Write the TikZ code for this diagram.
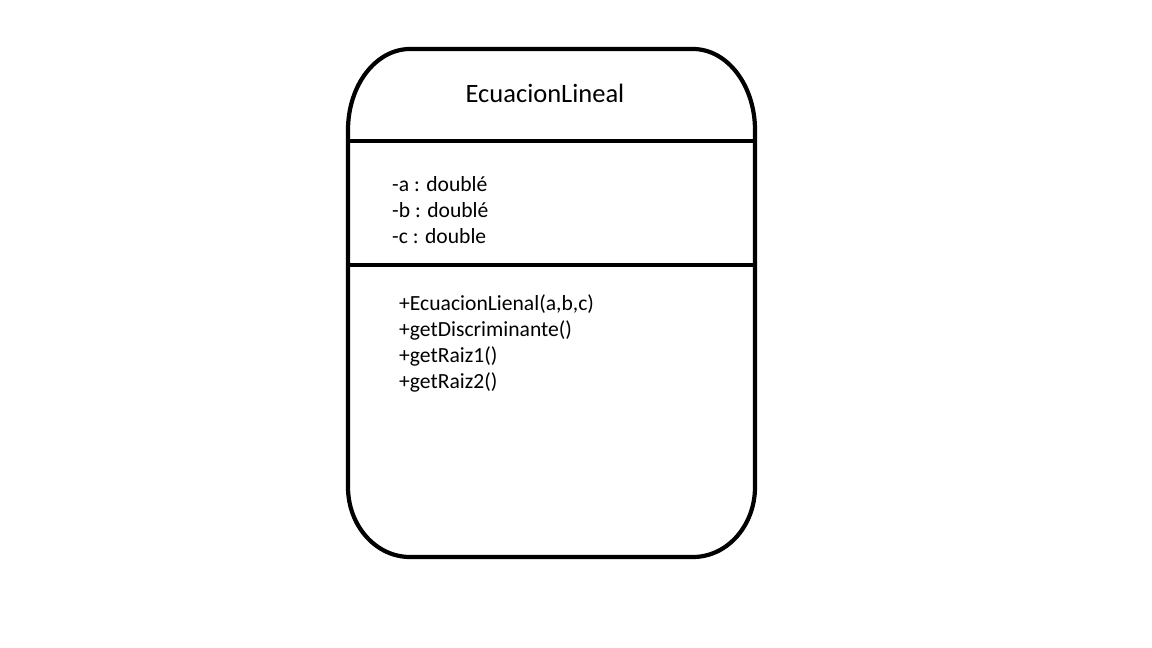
\documentclass[tikz,border=0pt]{standalone}
\usepackage{fontspec}
\setmainfont{Carlito}
\begin{document}
\begin{tikzpicture}[x=1pt,y=-1pt,
  boxline/.style={line width=4.2pt,black},
  listtext/.style={anchor=base west,inner sep=0pt,font=\fontsize{21.6}{26}\selectfont}]
\useasboundingbox (0,0) rectangle (1152,648);
\draw[boxline] (348,130) -- (348,487)
  arc[start angle=180,end angle=270,x radius=62,y radius=-70] -- (693,557)
  arc[start angle=270,end angle=360,x radius=62,y radius=-70] -- (755,130)
  arc[start angle=0,end angle=90,x radius=62,y radius=-81] -- (410,49)
  arc[start angle=90,end angle=180,x radius=62,y radius=-81] -- cycle;
\coordinate (d1l) at (348,141); \coordinate (d1r) at (755,141);
\coordinate (d2l) at (348,265); \coordinate (d2r) at (755,265);
\draw[boxline] (d1l) -- (d1r);
\draw[boxline] (d2l) -- (d2r);
\node[font=\fontsize{26.5}{30}\selectfont,inner sep=0pt,anchor=base] (title) at (545,102) {EcuacionLineal};
\node[listtext] (a1) at (392,191) {-a : doublé};
\node[listtext] (a2) at (392,217) {-b : doublé};
\node[listtext] (a3) at (392,243) {-c : double};
\node[listtext] (o1) at (399,310) {+EcuacionLienal(a,b,c)};
\node[listtext] (o2) at (399,336) {+getDiscriminante()};
\node[listtext] (o3) at (399,362) {+getRaiz1()};
\node[listtext] (o4) at (399,388) {+getRaiz2()};
\end{tikzpicture}
\end{document}
